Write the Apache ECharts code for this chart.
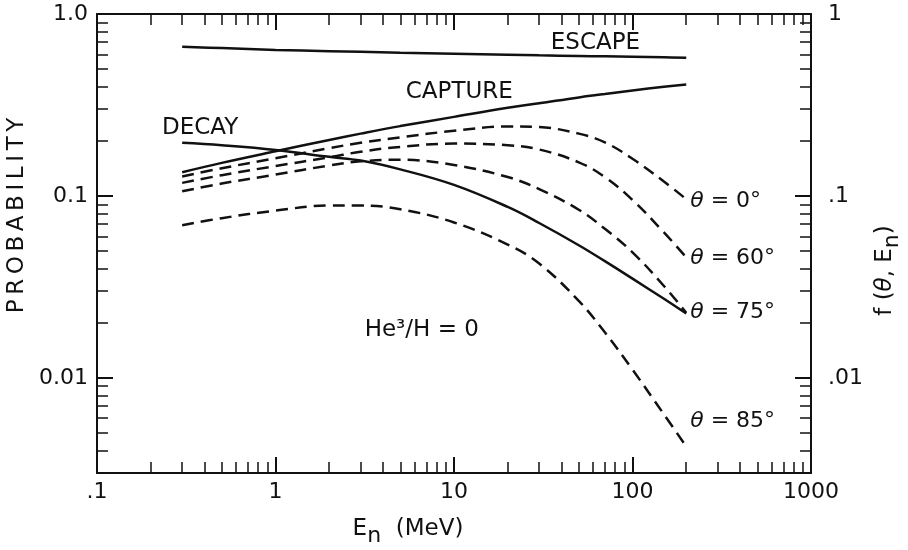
<!DOCTYPE html>
<html lang="en" style="height: 100%">
<head>
  <meta charset="utf-8">
</head>
<body style="height: 100%; margin: 0; background: #ffffff">
  <div id="container" style="width: 908px; height: 550px"></div>

  <script type="text/javascript" src="https://cdn.jsdelivr.net/npm/echarts@6/dist/echarts.min.js"></script>
  <script type="text/javascript">
    // neutron energy grid (MeV), shared by every curve
    var energy = [0.3, 0.5, 1, 2, 3, 5, 10, 20, 30, 50, 70, 100, 150, 200];

    // solid curves (PROBABILITY)
    var escapeP  = [0.66, 0.65, 0.635, 0.625, 0.62, 0.613, 0.605, 0.598, 0.593, 0.588, 0.585, 0.582, 0.578, 0.575];
    var captureP = [0.135, 0.152, 0.176, 0.203, 0.22, 0.242, 0.272, 0.305, 0.323, 0.348, 0.363, 0.38, 0.398, 0.41];
    var decayP   = [0.196, 0.19, 0.179, 0.164, 0.1565, 0.14, 0.115, 0.087, 0.071, 0.0536, 0.0438, 0.0351, 0.0272, 0.0226];

    // dashed curves f(theta, En)
    var f0  = [0.128, 0.142, 0.161, 0.183, 0.196, 0.21, 0.228, 0.241, 0.239, 0.22, 0.197, 0.16, 0.12, 0.096];
    var f60 = [0.118, 0.13, 0.146, 0.163, 0.175, 0.186, 0.194, 0.19, 0.18, 0.153, 0.127, 0.095, 0.063, 0.046];
    var f75 = [0.106, 0.117, 0.131, 0.147, 0.155, 0.158, 0.148, 0.127, 0.109, 0.084, 0.066, 0.049, 0.032, 0.0228];
    var f85 = [0.069, 0.0755, 0.083, 0.0885, 0.0885, 0.0845, 0.0715, 0.054, 0.0425, 0.0265, 0.0178, 0.0111, 0.0063, 0.0042];

    // axis ticks and labels
    var xMajor = [0.1, 1, 10, 100, 1000];
    var xMajorLabels = ['.1', '1', '10', '100', '1000'];
    var yMajor = [0.01, 0.1, 1];
    var yLeftLabels = ['0.01', '0.1', '1.0'];
    var yRightLabels = ['.01', '.1', '1'];

    function minorTicks(lo, hi) {
      var out = [];
      for (var d = lo; d < hi * 0.999; d *= 10) {
        for (var k = 2; k <= 9; k++) out.push(+(k * d).toPrecision(3));
      }
      return out;
    }
    var xMinor = minorTicks(0.1, 1000);
    var yMinor = minorTicks(0.001, 1).filter(function (v) { return v > 0.0031 && v < 1; });

    var ink = '#111111';
    var font = 'DejaVu Sans';
    var thin = '\u2009';

    function pairs(ys) {
      return energy.map(function (x, i) { return [x, ys[i]]; });
    }
    function labelFrom(majors, labels) {
      return function (v) {
        var k = Math.round(Math.log10(v));
        for (var i = 0; i < majors.length; i++) {
          if (Math.round(Math.log10(majors[i])) === k) return labels[i];
        }
        return '';
      };
    }

    function logAxis(extra) {
      var a = {
        type: 'log',
        logBase: 10,
        splitLine: { show: false },
        axisLine: { show: false },
        axisLabel: { show: false },
        axisTick: { show: true, inside: true }
      };
      for (var k in extra) a[k] = extra[k];
      return a;
    }

    var majorTick = function (vals) {
      return { show: true, inside: true, length: 16, customValues: vals, lineStyle: { color: ink, width: 2 } };
    };
    var minorTick = function (vals) {
      return { show: true, inside: true, length: 11, customValues: vals, lineStyle: { color: ink, width: 1.5 } };
    };
    var frame = { show: true, onZero: false, lineStyle: { color: ink, width: 2 } };

    var dom = document.getElementById('container');
    var myChart = echarts.init(dom, null, { renderer: 'canvas' });

    var solid = { color: ink, width: 2.5, type: 'solid' };
    var dashed = { color: ink, width: 2.5, type: [12, 7] };

    function thetaLabel(deg, dy) {
      return {
        show: true,
        distance: 4,
        offset: [0, dy],
        color: ink,
        fontFamily: font,
        fontSize: 22,
        formatter: '{i|θ} = ' + deg + '°',
        rich: { i: { fontStyle: 'italic', fontFamily: font, fontSize: 22, color: ink } }
      };
    }

    function curve(name, ys, style, endLabel) {
      var s = { name: name, type: 'line', data: pairs(ys), smooth: 0.4, showSymbol: false, lineStyle: style, silent: true };
      if (endLabel) s.endLabel = endLabel;
      return s;
    }

    var escapeSeries = curve('escape', escapeP, solid);
    escapeSeries.markPoint = {
      symbol: 'circle', symbolSize: 0, silent: true,
      label: { show: true, position: 'inside', formatter: '{b}', fontSize: 23, fontFamily: font, color: ink },
      data: [
        { name: 'ESCAPE', coord: [62, 0.693] },
        { name: 'CAPTURE', coord: [10.7, 0.373] },
        { name: 'DECAY', coord: [0.378, 0.236] },
        { name: 'He³/H = 0', coord: [6.6, 0.0184] }
      ]
    };

    var option = {
      animation: false,
      backgroundColor: '#ffffff',
      textStyle: { fontFamily: font, color: ink },
      grid: { left: 97, right: 97, top: 14, bottom: 77, containLabel: false, outerBoundsMode: 'none' },
      xAxis: [
        logAxis({
          position: 'bottom', min: 0.1, max: 1000,
          axisLine: frame,
          axisTick: majorTick(xMajor),
          axisLabel: {
            show: true, customValues: xMajor, margin: 8, fontSize: 22, fontFamily: font, color: ink,
            formatter: labelFrom(xMajor, xMajorLabels)
          },
          name: '{e|E}{n|n}{e|  (MeV)}',
          nameLocation: 'middle',
          nameGap: 38,
          nameTextStyle: {
            padding: [0, 92, 0, 0],
            rich: {
              e: { fontSize: 23, fontFamily: font, color: ink },
              n: { fontSize: 22, fontFamily: font, color: ink, padding: [14, 0, 0, 0] }
            }
          }
        }),
        logAxis({ position: 'bottom', min: 0.1, max: 1000, axisTick: minorTick(xMinor) }),
        logAxis({ position: 'top', min: 0.1, max: 1000, axisLine: frame, axisTick: majorTick(xMajor) }),
        logAxis({ position: 'top', min: 0.1, max: 1000, axisTick: minorTick(xMinor) })
      ],
      yAxis: [
        logAxis({
          position: 'left', min: 0.003, max: 1,
          axisLine: frame,
          axisTick: majorTick(yMajor),
          axisLabel: {
            show: true, customValues: yMajor, margin: 9, fontSize: 22, fontFamily: font, color: ink,
            formatter: labelFrom(yMajor, yLeftLabels)
          },
          name: 'PROBABILITY'.split('').join(thin),
          nameLocation: 'middle',
          nameRotate: 90,
          nameGap: 64,
          nameTextStyle: { fontSize: 23, fontFamily: font, color: ink, padding: [0, 0, 0, 56] }
        }),
        logAxis({ position: 'left', min: 0.003, max: 1, axisTick: minorTick(yMinor) }),
        logAxis({
          position: 'right', min: 0.003, max: 1,
          axisLine: frame,
          axisTick: majorTick(yMajor),
          axisLabel: {
            show: true, customValues: yMajor, margin: 17, fontSize: 22, fontFamily: font, color: ink,
            formatter: labelFrom(yMajor, yRightLabels)
          },
          name: '{a|f (}{i|θ}{a|, E}{n|n}{a|)}',
          nameLocation: 'middle',
          nameRotate: 90,
          nameGap: 48,
          nameTextStyle: {
            padding: [0, 54, 0, 0],
            rich: {
              a: { fontSize: 23, fontFamily: font, color: ink },
              i: { fontSize: 23, fontFamily: font, color: ink, fontStyle: 'italic' },
              n: { fontSize: 22, fontFamily: font, color: ink, padding: [14, 0, 0, 0] }
            }
          }
        }),
        logAxis({ position: 'right', min: 0.003, max: 1, axisTick: minorTick(yMinor) })
      ],
      series: [
        escapeSeries,
        curve('capture', captureP, solid),
        curve('decay', decayP, solid),
        curve('f0', f0, dashed, thetaLabel(0, 2)),
        curve('f60', f60, dashed, thetaLabel(60, 1)),
        curve('f75', f75, dashed, thetaLabel(75, 0)),
        curve('f85', f85, dashed, thetaLabel(85, -25))
      ]
    };

    myChart.setOption(option);
    window.addEventListener('resize', myChart.resize);
  </script>
</body>
</html>
